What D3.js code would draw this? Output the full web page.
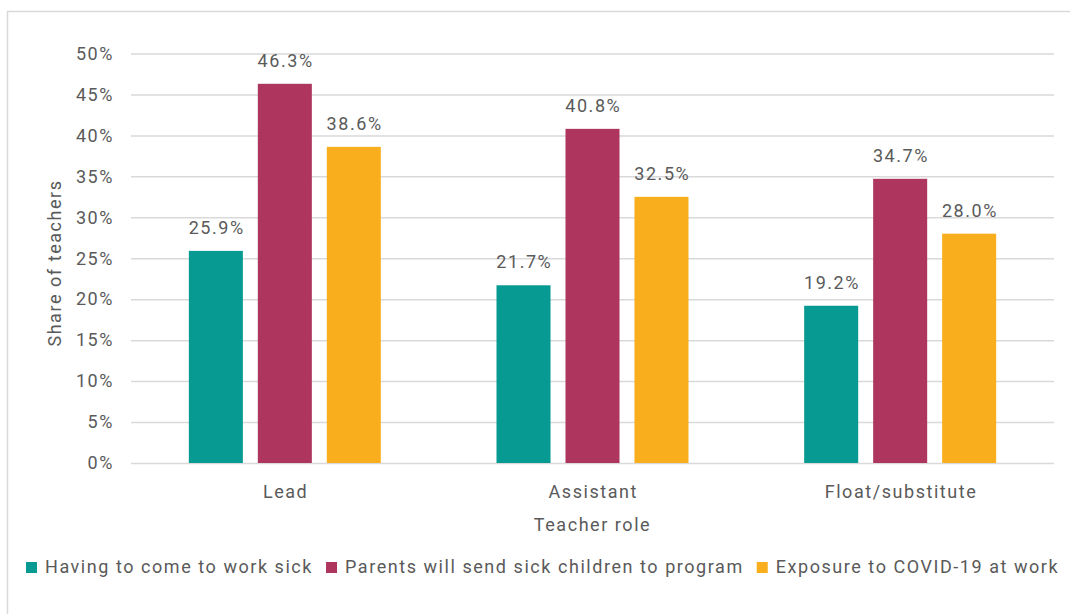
<!DOCTYPE html>
<html>
<head>
<meta charset="utf-8">
<script src="https://cdn.jsdelivr.net/npm/d3@7"></script>
<style>
  html, body { margin: 0; padding: 0; background: #fff; }
  svg { display: block; font-family: Roboto, "Noto Sans", sans-serif; }
  svg text { letter-spacing: 1.55px; }
</style>
</head>
<body>
<svg id="chart" width="1070" height="614"></svg>
<script>
// Teacher roles on the x axis
const roles = ["Lead", "Assistant", "Float/substitute"];

// Concern series (share of teachers, %)
const seriesNames = [
  "Having to come to work sick",
  "Parents will send sick children to program",
  "Exposure to COVID-19 at work"
];
const comeToWorkSick = [25.9, 21.7, 19.2];
const parentsSendSick = [46.3, 40.8, 34.7];
const covidExposure = [38.6, 32.5, 28.0];
const seriesColors = ["#069a92", "#ae365e", "#f9ae1e"];

const yTicks = [0, 5, 10, 15, 20, 25, 30, 35, 40, 45, 50];

const seriesValues = [comeToWorkSick, parentsSendSick, covidExposure];

const svg = d3.select("#chart");
const textColor = "#5a5a5a";
const fontSize = 18;

// frame around the chart
svg.append("rect")
  .attr("x", 7.5).attr("y", 11.5)
  .attr("width", 1080).attr("height", 620)
  .attr("fill", "none").attr("stroke", "#d9d9d9").attr("stroke-width", 1.5);

const plot = { left: 131, right: 1054, top: 53.5, bottom: 463 };

const y = d3.scaleLinear().domain([0, 50]).range([plot.bottom, plot.top]);

const x0 = d3.scaleBand()
  .domain(roles)
  .range([plot.left, plot.right])
  .paddingInner(0.376)
  .paddingOuter(0.188);

const x1 = d3.scaleBand()
  .domain(d3.range(seriesNames.length))
  .range([0, x0.bandwidth()])
  .paddingInner(0.217);

// horizontal gridlines + tick labels
const yAxis = d3.axisLeft(y)
  .tickValues(yTicks)
  .tickSize(-(plot.right - plot.left))
  .tickPadding(17)
  .tickFormat(d => d + "%");

const gy = svg.append("g")
  .attr("transform", `translate(${plot.left},0)`)
  .call(yAxis);
gy.select(".domain").remove();
gy.selectAll(".tick line").attr("stroke", "#d9d9d9").attr("stroke-width", 1.5);
gy.selectAll(".tick text")
  .attr("fill", textColor)
  .style("font-size", fontSize + "px")
  .style("font-family", "Roboto, sans-serif");

// bars
const groups = svg.append("g").selectAll("g")
  .data(roles)
  .join("g")
  .attr("transform", d => `translate(${x0(d)},0)`);

groups.selectAll("rect")
  .data((role, i) => seriesValues.map((vals, s) => ({ s, v: vals[i] })))
  .join("rect")
  .attr("x", d => x1(d.s))
  .attr("width", x1.bandwidth())
  .attr("y", d => y(d.v))
  .attr("height", d => y(0) - y(d.v))
  .attr("fill", d => seriesColors[d.s]);

// value labels
groups.selectAll("text.val")
  .data((role, i) => seriesValues.map((vals, s) => ({ s, v: vals[i] })))
  .join("text")
  .attr("class", "val")
  .attr("x", d => x1(d.s) + x1.bandwidth() / 2 + 0.8)
  .attr("y", d => y(d.v) - 17)
  .attr("text-anchor", "middle")
  .attr("fill", textColor)
  .style("font-size", fontSize + "px")
  .text(d => d.v.toFixed(1) + "%");

// category labels
const xAxis = d3.axisBottom(x0).tickSize(0).tickPadding(22);
const gx = svg.append("g")
  .attr("transform", `translate(0,${plot.bottom})`)
  .call(xAxis);
gx.select(".domain").remove();
gx.selectAll(".tick text")
  .attr("fill", textColor)
  .attr("dx", "0.8")
  .style("font-size", fontSize + "px")
  .style("font-family", "Roboto, sans-serif");

// axis titles
svg.append("text")
  .attr("x", (plot.left + plot.right) / 2)
  .attr("y", 531)
  .attr("text-anchor", "middle")
  .attr("fill", textColor)
  .style("font-size", fontSize + "px")
  .text("Teacher role");

svg.append("text")
  .attr("transform", `translate(61,263) rotate(-90)`)
  .attr("text-anchor", "middle")
  .attr("fill", textColor)
  .style("font-size", fontSize + "px")
  .text("Share of teachers");

// legend
const legend = svg.append("g").attr("transform", "translate(26,573)");
let lx = 0;
seriesNames.forEach((name, i) => {
  const item = legend.append("g").attr("transform", `translate(${lx},0)`);
  item.append("rect")
    .attr("x", 0).attr("y", -11)
    .attr("width", 11).attr("height", 11)
    .attr("fill", seriesColors[i]);
  const t = item.append("text")
    .attr("x", 19).attr("y", 0)
    .attr("fill", textColor)
    .style("font-size", fontSize + "px")
    .text(name);
  lx += 19 + t.node().getComputedTextLength() + 13;
});
</script>
</body>
</html>
